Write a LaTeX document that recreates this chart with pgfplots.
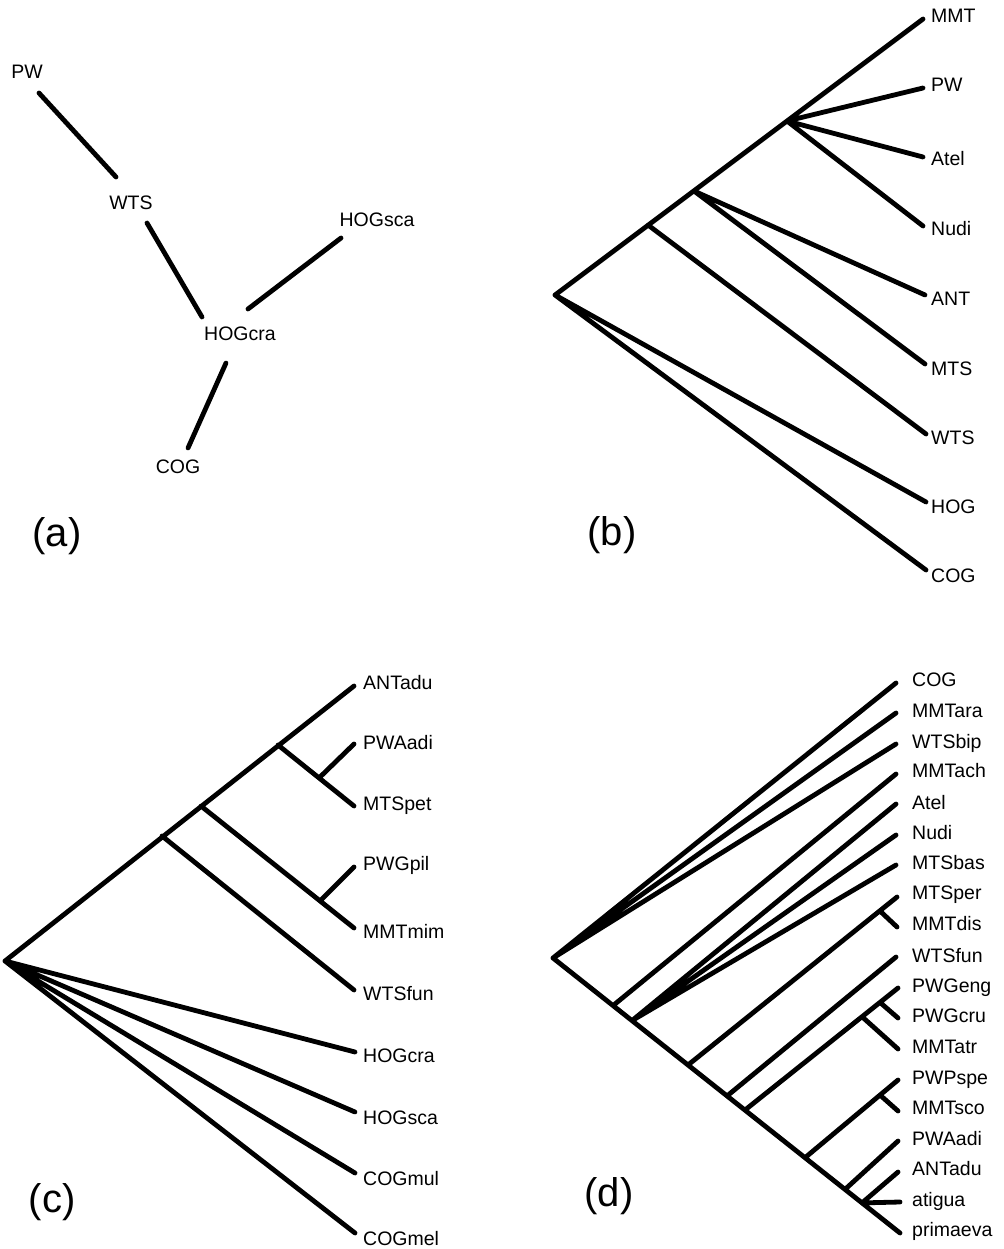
\documentclass[border=0pt]{standalone}
\usepackage{fontspec}
\setmainfont{Liberation Sans}
\usepackage{pgfplots}
\usepackage{pgfplotstable}
\pgfplotsset{compat=1.18}

% ---------- branches (pixel coordinates, y downwards) ----------
\pgfplotstableread{
x y
39 93
116 177
nan nan
147 223
202 317
nan nan
341 238
248 309
nan nan
226 363
188 448
}\treeA

\pgfplotstableread{
x y
555 295
923 19
nan nan
648 225
926 434
nan nan
694 191
925 295
nan nan
694 191
925 364
nan nan
787 121
923 88
nan nan
787 121
923 157
nan nan
787 121
923 226
nan nan
555 295
926 502
nan nan
555 295
926 570
}\treeB

\pgfplotstableread{
x y
5 961
354 686
nan nan
162 836
354 990
nan nan
201 806
354 928
nan nan
320 901
354 867
nan nan
278 745
354 806
nan nan
319 778
354 744
nan nan
5 961
355 1052
nan nan
5 961
355 1112
nan nan
5 961
355 1173
nan nan
5 961
355 1233
}\treeC

\pgfplotstableread{
x y
553 958
896 683
nan nan
553 958
896 713
nan nan
553 958
896 744
nan nan
553 958
900 1233
nan nan
613 1005.6
896 774
nan nan
632 1020.6
896 804
nan nan
632 1020.6
896 835
nan nan
632 1020.6
896 865
nan nan
688 1065
897 897
nan nan
880 911
897 927
nan nan
727 1096
896 957
nan nan
745 1110
898 988
nan nan
880 1002.4
898 1018
nan nan
862 1016.7
898 1049
nan nan
805 1157.7
898 1080
nan nan
880 1095
898 1111
nan nan
845 1189.4
898 1141
nan nan
862 1202.9
898 1172
nan nan
862 1202.9
900 1202
}\treeD

% ---------- labels ----------
\pgfplotstableread{
x y label
27 72 PW
131 203 WTS
377 219 HOGsca
240 333 HOGcra
178 466 COG
}\labA

\pgfplotstableread{
x y label
931 16 MMT
931 85 PW
931 159 Atel
931 229 Nudi
931 298 ANT
931 368 MTS
931 437 WTS
931 506 HOG
931 575 COG
}\labB

\pgfplotstableread{
x y label
363 682 ANTadu
363 742 PWAadi
363 803 MTSpet
363 863 PWGpil
363 931 MMTmim
363 993 WTSfun
363 1055 HOGcra
363 1117 HOGsca
363 1178 COGmul
363 1238 COGmel
}\labC

\pgfplotstableread{
x y label
912 679 COG
912 710 MMTara
912 741 WTSbip
912 770 MMTach
912 802 Atel
912 832 Nudi
912 862 MTSbas
912 892 MTSper
912 923 MMTdis
912 955 WTSfun
912 985 PWGeng
912 1015 PWGcru
912 1046 MMTatr
912 1077 PWPspe
912 1107 MMTsco
912 1138 PWAadi
912 1168 ANTadu
912 1199 atigua
912 1229 primaeva
}\labD

\pgfplotstableread{
x y label
57 536 (a)
612 535 (b)
52 1202 (c)
609 1196 (d)
}\panels

\begin{document}
\begin{tikzpicture}
\begin{axis}[
  width=1003pt, height=1249pt, scale only axis,
  xmin=0, xmax=1003, ymin=0, ymax=1249,
  y dir=reverse, hide axis, clip=false,
  unbounded coords=jump,
  tree/.style={black, line width=4.8pt, line cap=round, line join=round, mark=none},
  lab/.style={draw=none, mark=none, nodes near coords, point meta=explicit symbolic,
    every node near coord/.append style={anchor=west, inner sep=0pt,
      font=\fontsize{19.5}{20}\selectfont, text height=14pt, text depth=0pt}},
]
\addplot[draw=none, mark=none] coordinates {(0,0) (1003,1249)};
\addplot[tree] table {\treeA};
\addplot[tree] table {\treeB};
\addplot[tree] table {\treeC};
\addplot[tree] table {\treeD};
\addplot[draw=none, mark=none, nodes near coords, point meta=explicit symbolic,
    every node near coord/.append style={anchor=center, inner sep=0pt,
      font=\fontsize{19.5}{20}\selectfont, text height=14pt, text depth=0pt}]
  table[meta=label] {\labA};
\addplot[lab] table[meta=label] {\labB};
\addplot[lab] table[meta=label] {\labC};
\addplot[lab] table[meta=label] {\labD};
\addplot[draw=none, mark=none, nodes near coords, point meta=explicit symbolic,
    every node near coord/.append style={anchor=center, inner sep=0pt,
      font=\fontsize{40}{44}\selectfont}]
  table[meta=label] {\panels};
\end{axis}
\end{tikzpicture}
\end{document}
